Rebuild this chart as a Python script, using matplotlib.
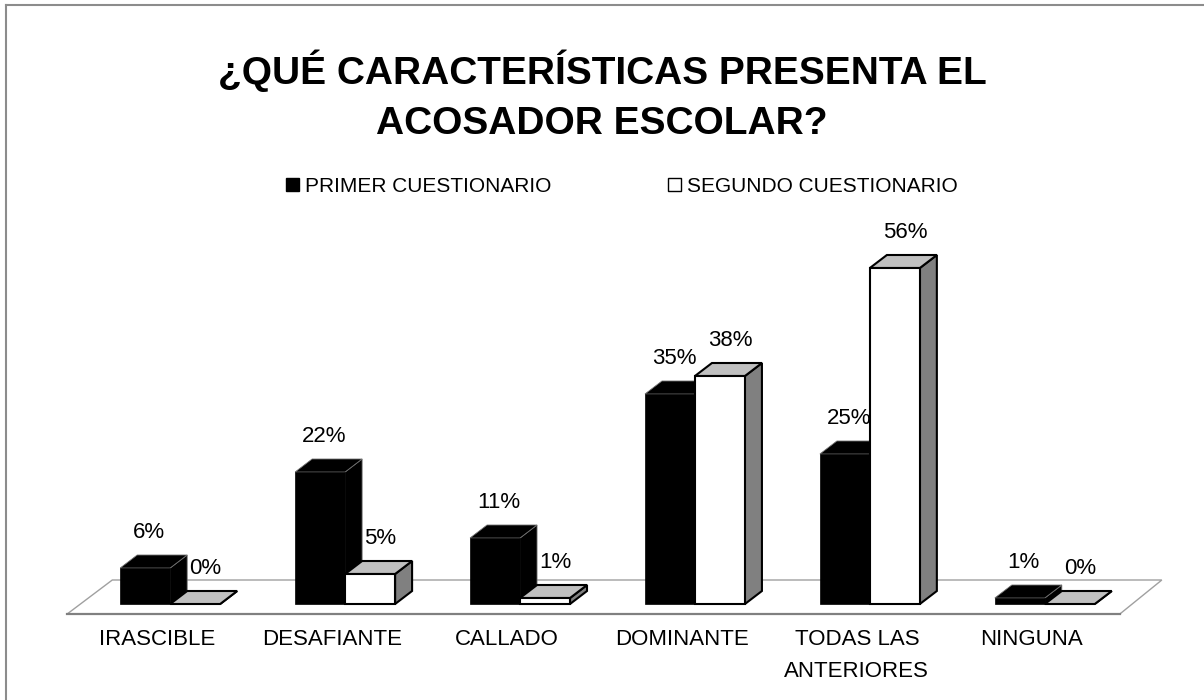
import matplotlib
matplotlib.use('Agg')
import matplotlib.pyplot as plt
from matplotlib.patches import Polygon, Patch
from matplotlib.lines import Line2D

plt.rcParams['font.family'] = ['Liberation Sans Narrow', 'Liberation Sans', 'DejaVu Sans']

# datos
categorias = ['IRASCIBLE', 'DESAFIANTE', 'CALLADO', 'DOMINANTE', 'TODAS LAS\nANTERIORES', 'NINGUNA']
primer = [6, 22, 11, 35, 25, 1]
segundo = [0, 5, 1, 38, 56, 0]
series = ['PRIMER CUESTIONARIO', 'SEGUNDO CUESTIONARIO']
titulo = '¿QUÉ CARACTERÍSTICAS PRESENTA EL\nACOSADOR ESCOLAR?'

W, H = 1204, 700
fig = plt.figure(figsize=(W / 100, H / 100), dpi=100)

# ejes: 1 categoria = 175 px, 1% = 6 px
PX = 175.0
PY = 6.0
L, R, T, B = 39, 1176, 184, 634
ax = fig.add_axes([L / W, (H - B) / H, (R - L) / W, (B - T) / H])
ax.set_xlim(-0.75, 5.75)
ax.set_ylim(-5, 70)
ax.axis('off')

# piso en perspectiva
floor = Polygon([(-0.589, -10 / PY), (-0.331, 24 / PY), (5.669, 24 / PY), (5.429, -10 / PY)],
                closed=True, facecolor='white', edgecolor='#a0a0a0', lw=1, zorder=1)
ax.add_patch(floor)
ax.plot([-0.589, 5.429], [-10 / PY, -10 / PY], color='#808080', lw=1.6, zorder=1.1)

w = 50 / PX
dx = 17 / PX
dy = 13 / PY
x = range(len(categorias))


def caja(x0, h, front, top, side, edge, lw, z):
    x1 = x0 + w
    ax.add_patch(Polygon([(x1, 0), (x1 + dx, dy), (x1 + dx, h + dy), (x1, h)],
                         closed=True, facecolor=side, edgecolor=edge, lw=lw, zorder=z))
    ax.add_patch(Polygon([(x0, h), (x1, h), (x1 + dx, h + dy), (x0 + dx, h + dy)],
                         closed=True, facecolor=top, edgecolor=edge, lw=lw, zorder=z))


for i in x:
    # primer cuestionario (negro)
    caja(i - w, primer[i], 'black', 'black', 'black', '#707070', 0.6, 2)
    ax.bar(i - w / 2, primer[i], w, color='black', edgecolor='black', lw=0.5, zorder=2.1)
    # segundo cuestionario (blanco)
    caja(i, segundo[i], 'white', '#c0c0c0', '#808080', 'black', 1.5, 3)
    if segundo[i] > 0:
        ax.bar(i + w / 2, segundo[i], w, color='white', edgecolor='black', lw=1.5, zorder=3.1)

    ax.text(i - w / 2 + 4 / PX, primer[i] + 35 / PY, f'{primer[i]}%', ha='center', va='center',
            fontsize=16, zorder=5)
    ax.text(i + w / 2 + 10 / PX, segundo[i] + 35 / PY, f'{segundo[i]}%', ha='center', va='center',
            fontsize=16, zorder=5)
    ax.text(i - 13 / PX, -25 / PY, categorias[i], ha='center', va='top', fontsize=16,
            linespacing=1.7, zorder=5)

fig.text(0.5, 1 - 96 / H, titulo, ha='center', va='center', fontsize=28, fontweight='bold',
         linespacing=1.5)

handles = [Patch(facecolor='black', edgecolor='black', lw=1),
           Patch(facecolor='white', edgecolor='black', lw=1)]
fig.legend(handles, series, loc='center', bbox_to_anchor=(622 / W, 1 - 186 / H), ncol=2,
           frameon=False, fontsize=15, handlelength=0.6, handleheight=0.6,
           handletextpad=0.3, columnspacing=5.6)

# marco exterior
fig.add_artist(Line2D([5.5 / W, 1], [1 - 4.5 / H, 1 - 4.5 / H], color='#8c8c8c', lw=1.5))
fig.add_artist(Line2D([5.5 / W, 5.5 / W], [0, 1 - 4.5 / H], color='#8c8c8c', lw=1.5))

fig.savefig('out.png', dpi=100, facecolor='white')
